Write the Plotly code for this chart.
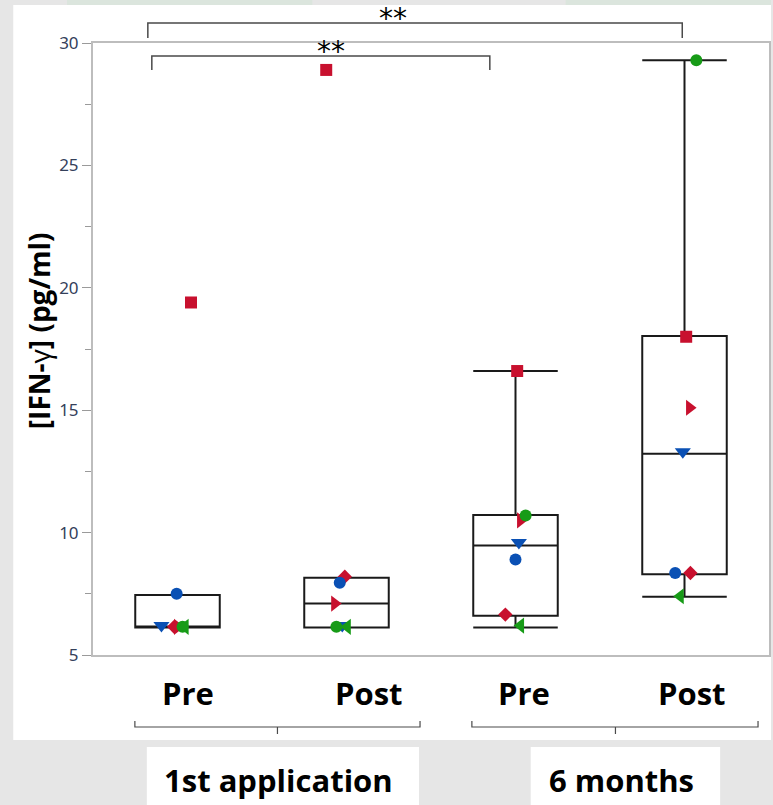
import plotly.graph_objects as go

# ---------------- data ----------------
categories = ["Pre", "Post", "Pre", "Post"]
groups = ["1st application", "6 months"]

# per-subject values for each category (Pre-1st, Post-1st, Pre-6m, Post-6m)
s_red_square   = [19.4, 28.9, 16.6, 18.0]
s_red_diamond  = [6.15, 8.2, 6.65, 8.35]
s_red_tri      = [6.15, 7.1, 10.5, 15.1]
s_blue_circle  = [7.5, 7.95, 8.9, 8.35]
s_blue_tri     = [6.2, 6.2, 9.6, 13.3]
s_green_circle = [6.15, 6.15, 10.7, 29.3]
s_green_tri    = [6.15, 6.15, 6.2, 7.4]

# box statistics
box_q1     = [6.12, 6.12, 6.6, 8.3]
box_median = [6.12, 7.1, 9.47, 13.22]
box_q3     = [7.45, 8.16, 10.72, 18.03]
box_lower  = [6.12, 6.12, 6.12, 7.38]
box_upper  = [7.45, 8.16, 16.6, 29.3]

y_ticks = [5, 10, 15, 20, 25, 30]
significance = [("**", 0, 3), ("**", 0, 2)]

# ---------------- style ----------------
RED, BLUE, GREEN = "#c8102e", "#0a50b4", "#179b17"
subjects = [
    (s_red_square, "square", RED, 12, [0.08, -0.12, 0.01, 0.01]),
    (s_red_diamond, "diamond", RED, 11, [-0.02, -0.01, -0.06, 0.035]),
    (s_red_tri, "triangle-right", RED, 14, [0.0, -0.07, 0.03, 0.03]),
    (s_blue_circle, "circle", BLUE, 12, [-0.005, -0.04, 0.0, -0.055]),
    (s_blue_tri, "triangle-down", BLUE, 14, [-0.095, -0.025, 0.02, -0.01]),
    (s_green_circle, "circle", GREEN, 12, [0.03, -0.06, 0.06, 0.07]),
    (s_green_tri, "triangle-left", GREEN, 14, [0.045, 0.005, 0.03, -0.025]),
]

W, H = 773, 805
L, R, T, B = 93, 2, 43, 150
PW, PH = W - L - R, H - T - B
BOLD_FONT = "Open Sans"


def px(x):
    return (x - L) / PW


def py(y):
    return (H - B - y) / PH


fig = go.Figure()

fig.add_trace(go.Box(
    x=list(range(len(categories))), q1=box_q1, median=box_median, q3=box_q3,
    lowerfence=box_lower, upperfence=box_upper,
    width=0.5, whiskerwidth=1, boxpoints=False,
    line=dict(color="#1a1a1a", width=2), fillcolor="rgba(0,0,0,0)",
    showlegend=False, hoverinfo="skip",
))

for vals, sym, col, size, jit in subjects:
    fig.add_trace(go.Scatter(
        x=[i + jit[i] for i in range(len(vals))], y=vals, mode="markers",
        marker=dict(symbol=sym, color=col, size=size, line=dict(width=0)),
        showlegend=False, cliponaxis=False,
    ))

shapes = []
annotations = []

# background panels
shapes.append(dict(type="rect", xref="paper", yref="paper", layer="below",
                   x0=px(13), x1=px(773), y0=py(740), y1=py(5),
                   fillcolor="white", line=dict(width=0)))
for x0, x1 in [(67, 313), (567, 773)]:
    shapes.append(dict(type="rect", xref="paper", yref="paper", layer="below",
                       x0=px(x0), x1=px(x1), y0=py(5), y1=py(0),
                       fillcolor="#dbe5dd", line=dict(width=0)))
for x0, x1 in [(147, 420), (532, 722)]:
    shapes.append(dict(type="rect", xref="paper", yref="paper", layer="below",
                       x0=px(x0), x1=px(x1), y0=py(805), y1=py(747),
                       fillcolor="white", line=dict(width=0)))

# significance brackets (top)
sig_geom = [(148, 684, 23, 38, 394, 19), (152, 491, 56, 70, 332, 52)]
for (txt, a, b), (xa, xb, ytop, ybot, tx, ty) in zip(significance, sig_geom):
    shapes.append(dict(type="path", xref="paper", yref="paper",
                       path=f"M {px(xa)},{py(ybot)} L {px(xa)},{py(ytop)} L {px(xb)},{py(ytop)} L {px(xb)},{py(ybot)}",
                       line=dict(color="#4a4a4a", width=1.5)))
    annotations.append(dict(text=txt, xref="paper", yref="paper", x=px(tx), y=py(ty),
                            showarrow=False, xanchor="center", yanchor="middle",
                            font=dict(family="DejaVu Sans", size=28, color="black")))

# group brackets (bottom)
grp_geom = [(135, 421, 278, 279), (473, 760, 617, 623)]
for g, (xa, xb, xm, tx) in zip(groups, grp_geom):
    shapes.append(dict(type="path", xref="paper", yref="paper",
                       path=f"M {px(xa)},{py(721)} L {px(xa)},{py(727)} L {px(xb)},{py(727)} L {px(xb)},{py(721)}",
                       line=dict(color="#4a4a4a", width=1.2)))
    shapes.append(dict(type="line", xref="paper", yref="paper",
                       x0=px(xm), x1=px(xm), y0=py(727), y1=py(734),
                       line=dict(color="#4a4a4a", width=1.2)))
    annotations.append(dict(text=f"<b>{g}</b>", xref="paper", yref="paper", x=px(tx), y=py(780),
                            showarrow=False, xanchor="center", yanchor="middle",
                            font=dict(family=BOLD_FONT, size=31, color="black")))

# category labels
cat_shift = [10, 22, 8, 7]
for i, c in enumerate(categories):
    annotations.append(dict(text=f"<b>{c}</b>", xref="x", yref="paper", x=i, y=py(693),
                            xshift=cat_shift[i], showarrow=False, xanchor="center", yanchor="middle",
                            font=dict(family=BOLD_FONT, size=31, color="black")))

# y-axis title
annotations.append(dict(text="<b>[IFN-</b>γ<b>] (pg/ml)</b>", xref="paper", yref="paper",
                        x=px(39), y=py(331), textangle=-90, showarrow=False,
                        xanchor="center", yanchor="middle",
                        font=dict(family=BOLD_FONT, size=28, color="black")))

fig.update_layout(
    width=W, height=H, autosize=False,
    margin=dict(l=L, r=R, t=T, b=B, pad=0),
    paper_bgcolor="#e6e6e6", plot_bgcolor="white",
    shapes=shapes, annotations=annotations,
    xaxis=dict(range=[-0.5, 3.5], showgrid=False, zeroline=False, showticklabels=False,
               ticks="", showline=True, mirror=True, linecolor="#bdbdbd", linewidth=2),
    yaxis=dict(range=[5, 30], tickvals=y_ticks, showgrid=False, zeroline=False,
               ticks="outside", ticklen=9, tickwidth=1.2, tickcolor="#9a9a9a",
               minor=dict(dtick=2.5, tick0=5, ticks="outside", ticklen=6, tickcolor="#9a9a9a", tickwidth=1.2),
               showline=True, mirror=True, linecolor="#bdbdbd", linewidth=2,
               tickfont=dict(family="Noto Sans", size=17, color="#34405a")),
)

fig.write_html("out.html", config={"displayModeBar": False},
               post_script="document.body.style.margin='0px';document.body.style.overflow='hidden';")
